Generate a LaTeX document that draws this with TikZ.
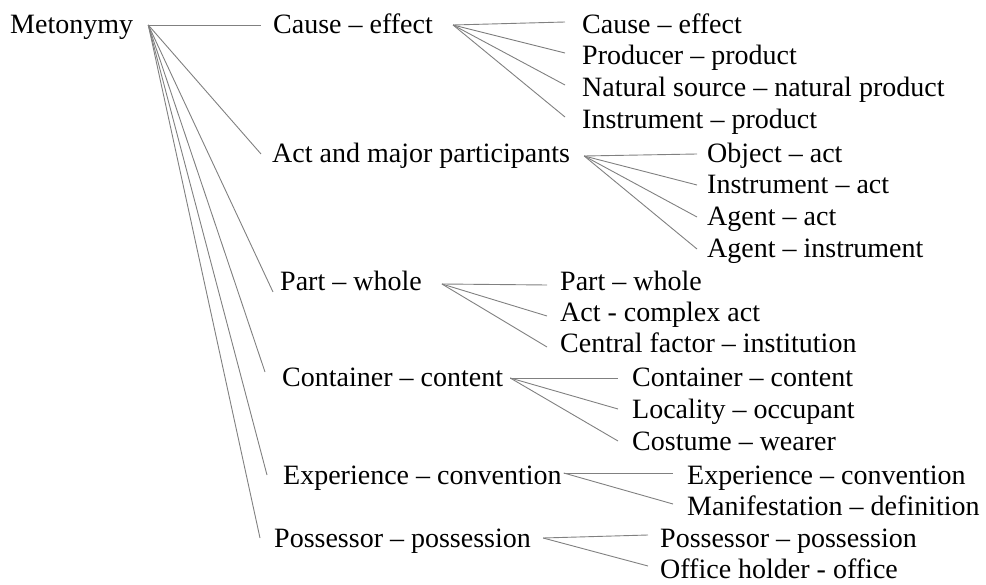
\documentclass[tikz,border=0pt]{standalone}
\usepackage{fontspec}
\setmainfont{Liberation Serif}

\tikzset{
  term/.style={anchor=base west, inner sep=0pt, text height=22pt, text depth=4pt,
    font=\fontsize{28}{32}\selectfont},
  branch/.style={draw=gray, line width=0.9pt},
}

\begin{document}
\begin{tikzpicture}[x=1pt,y=-1pt]
\useasboundingbox (0,0) rectangle (986,585);

% root and first level
\node[term] (root) at (10,34) {Metonymy};
\node[term] (cause) at (273,34) {Cause -- effect};
\node[term] (act) at (272,163) {Act and major participants};
\node[term] (part) at (280,291) {Part -- whole};
\node[term] (cont) at (282,387) {Container -- content};
\node[term] (exper) at (283,484) {Experience -- convention};
\node[term] (poss) at (274,547) {Possessor -- possession};

% second level
\node[term] (causeEffect) at (582,34) {Cause -- effect};
\node[term] (producer) at (582,65) {Producer -- product};
\node[term] (natural) at (582,97) {Natural source -- natural product};
\node[term] (instrProd) at (582,129) {Instrument -- product};

\node[term] (object) at (707,163) {Object -- act};
\node[term] (instrAct) at (707,194) {Instrument -- act};
\node[term] (agentAct) at (707,226) {Agent -- act};
\node[term] (agentInstr) at (707,258) {Agent -- instrument};

\node[term] (partWhole) at (560,291) {Part -- whole};
\node[term] (complexAct) at (560,322) {Act - complex act};
\node[term] (central) at (560,353) {Central factor -- institution};

\node[term] (contContent) at (632,387) {Container -- content};
\node[term] (locality) at (632,418) {Locality -- occupant};
\node[term] (costume) at (632,450) {Costume -- wearer};

\node[term] (experConv) at (687,484) {Experience -- convention};
\node[term] (manifest) at (687,515) {Manifestation -- definition};

\node[term] (possPoss) at (660,547) {Possessor -- possession};
\node[term] (office) at (660,578) {Office holder - office};

% hubs
\coordinate (rootHub) at ([xshift=15pt]root.east);
\coordinate (causeHub) at ([xshift=20pt]cause.east);
\coordinate (actHub) at ([shift={(14pt,-2pt)}]act.east);
\coordinate (partHub) at ([shift={(20pt,-2pt)}]part.east);
\coordinate (contHub) at ([xshift=7pt]cont.east);
\coordinate (experHub) at ([shift={(2pt,2pt)}]exper.east);
\coordinate (possHub) at ([xshift=12pt]poss.east);

% connectors
\draw[branch] (rootHub) -- ([xshift=-12pt]cause.west);
\draw[branch] (rootHub) -- ([xshift=-11pt]act.west);
\draw[branch] (rootHub) -- ([shift={(-7pt,-10pt)}]part.west);
\draw[branch] (rootHub) -- ([shift={(-17pt,6pt)}]cont.west);
\draw[branch] (rootHub) -- ([xshift=-16pt]exper.west);
\draw[branch] (rootHub) -- ([xshift=-14pt]poss.west);

\foreach \c in {causeEffect,producer,natural,instrProd}
  \draw[branch] (causeHub) -- ([shift={(-17pt,3pt)}]\c.west);
\foreach \c in {object,instrAct,agentAct,agentInstr}
  \draw[branch] (actHub) -- ([xshift=-10pt]\c.west);
\foreach \c in {partWhole,complexAct,central}
  \draw[branch] (partHub) -- ([shift={(-13pt,-3pt)}]\c.west);
\foreach \c in {contContent,locality,costume}
  \draw[branch] (contHub) -- ([xshift=-14pt]\c.west);
\foreach \c in {experConv,manifest}
  \draw[branch] (experHub) -- ([shift={(-14pt,2pt)}]\c.west);
\foreach \c in {possPoss,office}
  \draw[branch] (possHub) -- ([shift={(-12pt,3pt)}]\c.west);

\end{tikzpicture}
\end{document}
